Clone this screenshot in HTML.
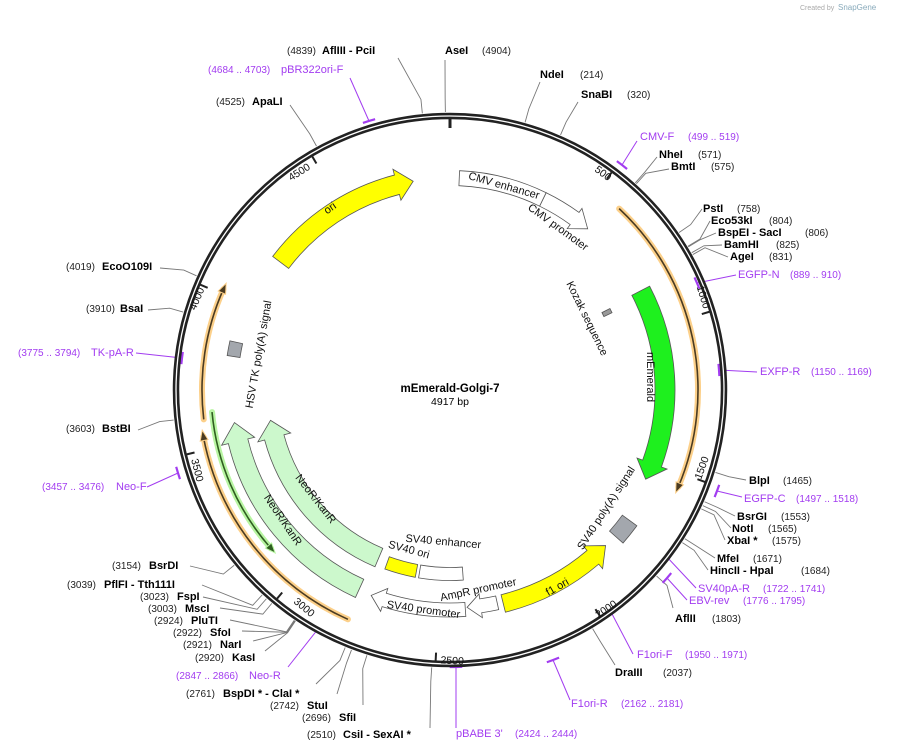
<!DOCTYPE html>
<html><head><meta charset="utf-8">
<style>
html,body{margin:0;padding:0;background:#fff;}
svg{display:block;font-family:"Liberation Sans",sans-serif;}
.n{font-size:11px;font-weight:bold;fill:#000;}
.c{font-size:10px;fill:#222;}
.p{font-size:11px;fill:#a23cf0;}
.pc{font-size:10px;fill:#a23cf0;}
.f{font-size:11px;fill:#111;}
.t{font-size:10.5px;fill:#111;}
</style></head><body>
<svg id="s" width="897" height="751" viewBox="0 0 897 751" xmlns="http://www.w3.org/2000/svg">
<g id="lines" stroke="#777" stroke-width="0.9" fill="none"></g>
<g id="plines" stroke="#a23cf0" stroke-width="1" fill="none"></g>
<g id="feat"></g>
<g id="ring"></g>
<text x="800" y="10" style="font-size:7px;fill:#aaa">Created by</text>
<text x="838" y="10" style="font-size:8px;fill:#8ab">SnapGene</text>

<text x="450" y="392" text-anchor="middle" style="font-size:11.5px;font-weight:bold">mEmerald-Golgi-7</text>
<text x="450" y="405" text-anchor="middle" style="font-size:10.5px">4917 bp</text>

<text x="287" y="54" class="c">(4839)</text><text x="322" y="54" class="n">AflIII  - PciI</text>
<text x="445" y="54" class="n">AseI</text><text x="482" y="54" class="c">(4904)</text>
<text x="540" y="78" class="n">NdeI</text><text x="580" y="78" class="c">(214)</text>
<text x="581" y="98" class="n">SnaBI</text><text x="627" y="98" class="c">(320)</text>
<text x="640" y="140" class="p">CMV-F</text><text x="688" y="140" class="pc">(499 .. 519)</text>
<text x="659" y="158" class="n">NheI</text><text x="698" y="158" class="c">(571)</text>
<text x="671" y="170" class="n">BmtI</text><text x="711" y="170" class="c">(575)</text>
<text x="703" y="212" class="n">PstI</text><text x="737" y="212" class="c">(758)</text>
<text x="711" y="224" class="n">Eco53kI</text><text x="769" y="224" class="c">(804)</text>
<text x="718" y="236" class="n">BspEI   - SacI</text><text x="805" y="236" class="c">(806)</text>
<text x="724" y="248" class="n">BamHI</text><text x="776" y="248" class="c">(825)</text>
<text x="730" y="260" class="n">AgeI</text><text x="769" y="260" class="c">(831)</text>
<text x="738" y="278" class="p">EGFP-N</text><text x="790" y="278" class="pc">(889 .. 910)</text>
<text x="760" y="375" class="p">EXFP-R</text><text x="811" y="375" class="pc">(1150 .. 1169)</text>
<text x="749" y="484" class="n">BlpI</text><text x="783" y="484" class="c">(1465)</text>
<text x="744" y="502" class="p">EGFP-C</text><text x="796" y="502" class="pc">(1497 .. 1518)</text>
<text x="737" y="520" class="n">BsrGI</text><text x="781" y="520" class="c">(1553)</text>
<text x="732" y="532" class="n">NotI</text><text x="768" y="532" class="c">(1565)</text>
<text x="727" y="544" class="n">XbaI *</text><text x="772" y="544" class="c">(1575)</text>
<text x="717" y="562" class="n">MfeI</text><text x="753" y="562" class="c">(1671)</text>
<text x="710" y="574" class="n">HincII   - HpaI</text><text x="801" y="574" class="c">(1684)</text>
<text x="698" y="592" class="p">SV40pA-R</text><text x="763" y="592" class="pc">(1722 .. 1741)</text>
<text x="689" y="604" class="p">EBV-rev</text><text x="743" y="604" class="pc">(1776 .. 1795)</text>
<text x="675" y="622" class="n">AflII</text><text x="712" y="622" class="c">(1803)</text>
<text x="637" y="658" class="p">F1ori-F</text><text x="685" y="658" class="pc">(1950 .. 1971)</text>
<text x="615" y="676" class="n">DraIII</text><text x="663" y="676" class="c">(2037)</text>
<text x="571" y="707" class="p">F1ori-R</text><text x="621" y="707" class="pc">(2162 .. 2181)</text>
<text x="456" y="737" class="p">pBABE 3'</text><text x="515" y="737" class="pc">(2424 .. 2444)</text>
<text x="307" y="738" class="c">(2510)</text><text x="343" y="738" class="n">CsiI   - SexAI *</text>
<text x="112" y="569" class="c">(3154)</text><text x="149" y="569" class="n">BsrDI</text>
<text x="67" y="588" class="c">(3039)</text><text x="104" y="588" class="n">PflFI   - Tth111I</text>
<text x="140" y="600" class="c">(3023)</text><text x="177" y="600" class="n">FspI</text>
<text x="148" y="612" class="c">(3003)</text><text x="185" y="612" class="n">MscI</text>
<text x="154" y="624" class="c">(2924)</text><text x="191" y="624" class="n">PluTI</text>
<text x="173" y="636" class="c">(2922)</text><text x="210" y="636" class="n">SfoI</text>
<text x="183" y="648" class="c">(2921)</text><text x="220" y="648" class="n">NarI</text>
<text x="195" y="661" class="c">(2920)</text><text x="232" y="661" class="n">KasI</text>
<text x="176" y="679" class="pc">(2847 .. 2866)</text><text x="249" y="679" class="p">Neo-R</text>
<text x="186" y="697" class="c">(2761)</text><text x="223" y="697" class="n">BspDI *  - ClaI *</text>
<text x="270" y="709" class="c">(2742)</text><text x="307" y="709" class="n">StuI</text>
<text x="302" y="721" class="c">(2696)</text><text x="339" y="721" class="n">SfiI</text>
<text x="216" y="105" class="c">(4525)</text><text x="252" y="105" class="n">ApaLI</text>
<text x="208" y="73" class="pc">(4684 .. 4703)</text><text x="281" y="73" class="p">pBR322ori-F</text>
<text x="66" y="270" class="c">(4019)</text><text x="102" y="270" class="n">EcoO109I</text>
<text x="86" y="312" class="c">(3910)</text><text x="120" y="312" class="n">BsaI</text>
<text x="18" y="356" class="pc">(3775 .. 3794)</text><text x="91" y="356" class="p">TK-pA-R</text>
<text x="66" y="432" class="c">(3603)</text><text x="102" y="432" class="n">BstBI</text>
<text x="42" y="490" class="pc">(3457 .. 3476)</text><text x="116" y="490" class="p">Neo-F</text>

<text class="f" text-anchor="middle" transform="translate(503,189) rotate(16)">CMV enhancer</text>
<text class="f" text-anchor="middle" transform="translate(556,230) rotate(36)">CMV promoter</text>
<text class="f" text-anchor="middle" transform="translate(332,211) rotate(-35)">ori</text>
<text class="f" text-anchor="middle" transform="translate(584,320) rotate(64)">Kozak sequence</text>
<text class="f" text-anchor="middle" transform="translate(647,377) rotate(90)">mEmerald</text>
<text class="f" text-anchor="middle" transform="translate(609,510) rotate(-57)">SV40 poly(A) signal</text>
<text class="f" text-anchor="middle" transform="translate(559,590) rotate(-30)">f1 ori</text>
<text class="f" text-anchor="middle" transform="translate(479,593) rotate(-12)">AmpR promoter</text>
<text class="f" text-anchor="middle" transform="translate(423,613) rotate(8)">SV40 promoter</text>
<text class="f" text-anchor="middle" transform="translate(443,545) rotate(5)">SV40 enhancer</text>
<text class="f" text-anchor="middle" transform="translate(408,553) rotate(15)">SV40 ori</text>
<text class="f" text-anchor="middle" transform="translate(280,522) rotate(56)">NeoR/KanR</text>
<text class="f" text-anchor="middle" transform="translate(313,501) rotate(52)">NeoR/KanR</text>
<text class="f" text-anchor="middle" transform="translate(262,355) rotate(-80)">HSV TK poly(A) signal</text>

<text class="t" text-anchor="middle" transform="translate(601,176) rotate(37)">500</text>
<text class="t" text-anchor="middle" transform="translate(700,298) rotate(73)">1000</text>
<text class="t" text-anchor="middle" transform="translate(705,469) rotate(-70)">1500</text>
<text class="t" text-anchor="middle" transform="translate(608,612) rotate(-34)">2000</text>
<text class="t" text-anchor="middle" transform="translate(452,664) rotate(3)">2500</text>
<text class="t" text-anchor="middle" transform="translate(302,610) rotate(40)">3000</text>
<text class="t" text-anchor="middle" transform="translate(194,471) rotate(76)">3500</text>
<text class="t" text-anchor="middle" transform="translate(200,300) rotate(-67)">4000</text>
<text class="t" text-anchor="middle" transform="translate(301,175) rotate(-32)">4500</text>
</svg>
<script>
(function(){
var NS="http://www.w3.org/2000/svg",CX=450,CY=390,L=4917;
function P(a,r){a*=Math.PI/180;return [(CX+r*Math.sin(a)).toFixed(2),(CY-r*Math.cos(a)).toFixed(2)];}
function el(g,t,at){var e=document.createElementNS(NS,t);for(var k in at)e.setAttribute(k,at[k]);document.getElementById(g).appendChild(e);return e;}
function arc(a1,a2,r){var s=a2>a1?1:0,l=Math.abs(a2-a1)>180?1:0;return "M"+P(a1,r)+" A"+r+","+r+" 0 "+l+" "+s+" "+P(a2,r);}
function band(a1,a2,r,w){var s=a2>a1?1:0,o=r+w/2,i=r-w/2;return "M"+P(a1,o)+" A"+o+","+o+" 0 0 "+s+" "+P(a2,o)+" L"+P(a2,i)+" A"+i+","+i+" 0 0 "+(1-s)+" "+P(a1,i)+"Z";}
function arrow(a1,a2,r,w,hw,hl){var d=a2>a1?1:-1,ab=a2-d*hl,s=d>0?1:0,o=r+w/2,i=r-w/2;
return "M"+P(a1,o)+" A"+o+","+o+" 0 0 "+s+" "+P(ab,o)+" L"+P(ab,r+hw/2)+" L"+P(a2,r)+" L"+P(ab,r-hw/2)+" L"+P(ab,i)+" A"+i+","+i+" 0 0 "+(1-s)+" "+P(a1,i)+"Z";}
function A(p){return p/L*360;}
var S=[[4839,398,58],[4904,445,60],[214,540,82],[320,578,102],[571,657,157],[575,669,169],[758,702,209],[804,710,221],[806,716,233],[825,722,245],[831,728,257],
[1465,746,480],[1553,735,516],[1565,731,528],[1575,725,540],[1671,715,558],[1684,708,570],[1803,673,608],[2037,615,665],
[2510,430,728],[2696,363,705],[2742,337,694],[2761,316,684],[2920,265,651],[2921,253,641],[2922,242,631],[2924,230,620],[3003,220,608],[3023,203,597],[3039,202,585],[3154,190,566],
[4525,290,105],[4019,160,268],[3910,148,310],[3603,138,430]];
S.forEach(function(s){var a=A(s[0]);el("lines","polyline",{points:s[1]+","+s[2]+" "+P(a,292)+" "+P(a,278)});});
var PR=[[350,78,369,121],[637,141,622,165],[736,275,697,283],[757,372,719,370],[742,497,717,491],[696,588,666,556],[687,600,667,578],[633,654,611,612],[570,700,553,660],[456,728,456,667],[288,667,318,629],[147,487,178,473],[136,353,182,358]];
PR.forEach(function(p){var dx=p[2]-CX,dy=p[3]-CY,r=Math.hypot(dx,dy),a=Math.atan2(dx,-dy)*180/Math.PI;
el("plines","polyline",{points:p[0]+","+p[1]+" "+p[2]+","+p[3]});
el("plines","path",{d:arc(a-1.3,a+1.3,r),"stroke-width":2.2});});
function F(d,fill,st){el("feat","path",{d:d,fill:fill,stroke:st||"#555","stroke-width":0.8});}
function lineArrow(a1,a2,r,halo,col){var d=a2>a1?1:-1;
el("feat","path",{d:arc(a1,a2-d*1.5,r),fill:"none",stroke:halo,"stroke-width":6,"stroke-linecap":"round"});
el("feat","path",{d:arc(a1,a2-d*1.5,r),fill:"none",stroke:col,"stroke-width":1.6});
var ab=a2-d*2.4;el("feat","path",{d:"M"+P(ab,r+4)+" L"+P(a2,r)+" L"+P(ab,r-4)+"Z",fill:col,stroke:halo,"stroke-width":1});}
lineArrow(43,114.5,248,"#fcd08a","#4a3b22");
lineArrow(263.2,295.5,248,"#fcd08a","#4a3b22");
lineArrow(204,260.8,251,"#fcd08a","#4a3b22");
lineArrow(264.7,227,239,"#b8f5a2","#2f5e20");
F(band(2.5,26,212,15),"#fff");
F(arrow(26,40.5,212,15,25,4.5),"#fff");
F(arrow(307,350,212,20,32,4.5),"#ffff00");
F(arrow(62.5,114.5,215,20,32,4.5),"#1ef01e");
F(band(63,64.5,175,9),"#999");
F(band(126,131.5,222,18),"#a3a7ad");
F(arrow(166,135,220,18,30,4.5),"#ffff00");
F(arrow(167.5,175.5,218,14,24,3.6),"#fff");
F(arrow(176,201,220,14,24,3.6),"#fff");
F(band(176,189.5,184,13),"#fff");
F(band(190.5,200,184,13),"#ffff00");
F(arrow(204.5,261.4,218,20,34,5),"#ccf8cc");
F(arrow(203,260.4,182,20,34,5.5),"#ccf8cc");
F(band(278.8,282.6,219,13),"#a3a7ad");
el("ring","circle",{cx:CX,cy:CY,r:274,fill:"none",stroke:"#222","stroke-width":6.5});
el("ring","circle",{cx:CX,cy:CY,r:274,fill:"none",stroke:"#fff","stroke-width":1.3});
el("ring","polyline",{points:P(0,271)+" "+P(0,262),stroke:"#222","stroke-width":3,fill:"none"});
for(var k=500;k<L;k+=500){var a=A(k);el("ring","polyline",{points:P(a,271)+" "+P(a,263),stroke:"#222","stroke-width":2,fill:"none"});}
})();
</script>
</body></html>
